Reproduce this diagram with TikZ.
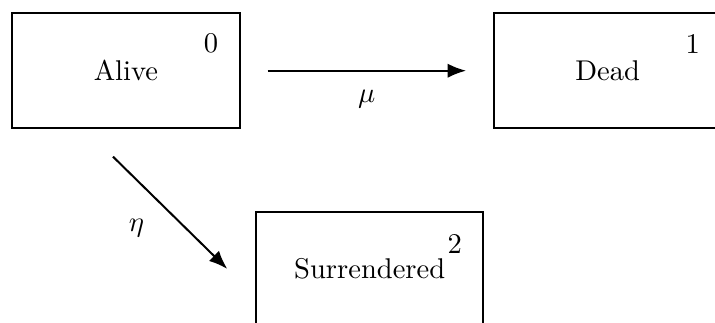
\documentclass[tikz,border=0pt]{standalone}
\usetikzlibrary{positioning, arrows.meta}

\begin{document}
\begin{tikzpicture}[
  state/.style={draw, line width=0.7pt, minimum width=2.80cm,
                minimum height=1.41cm, align=center},
  idx/.style={inner sep=0pt},
  flow/.style={-{Latex[length=6.5pt, width=5pt]}, line width=0.7pt},
]
\useasboundingbox (0,0) rectangle (8.80,-3.97);

\node[state] (alive) at (1.55,-0.87) {Alive};
\node[state] (dead)  at (7.48,-0.87) {Dead};
\node[state] (surr)  at (4.55,-3.31) {Surrendered};

\node[idx, below left=0.25cm and 0.27cm of alive.north east] (alive-id) {0};
\node[idx, below left=0.26cm and 0.27cm of dead.north east] (dead-id) {1};
\node[idx, below left=0.29cm and 0.27cm of surr.north east] (surr-id) {2};

\draw[flow, shorten <=0.33cm, shorten >=0.33cm] (alive.east) -- (dead.west)
  node[midway, below=3pt] (mu) {$\mu$};
\draw[flow] ([xshift=-0.16cm, yshift=-0.34cm]alive.south) -- ([xshift=-0.34cm]surr.west)
  node[midway, left=5.4pt, yshift=-5.2pt] (eta) {$\eta$};
\end{tikzpicture}
\end{document}
